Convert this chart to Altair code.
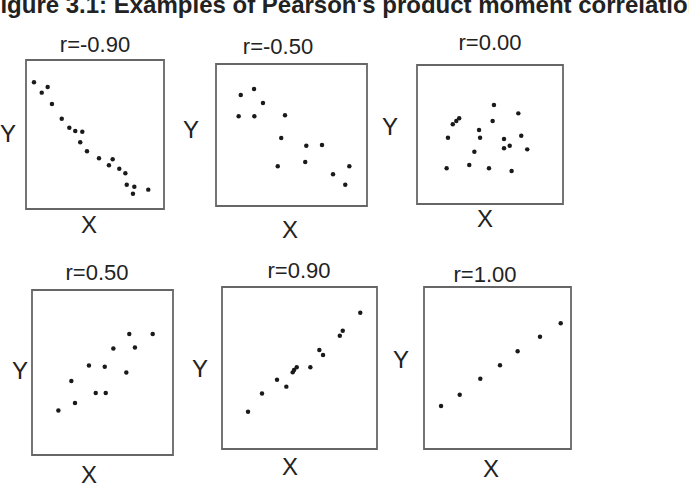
import altair as alt
import pandas as pd

# ---- data (in 0-100 units of each panel) ----
labels = ["r=-0.90", "r=-0.50", "r=0.00", "r=0.50", "r=0.90", "r=1.00"]

p1_x = [5.8, 11.4, 15.7, 18.8, 25.9, 31.4, 35.7, 40.8, 39.3, 44.2, 52.9, 62.8, 60.1, 67.6, 72.0, 73.0, 78.5, 77.5, 88.6]
p1_y = [85.0, 78.1, 81.9, 70.5, 60.6, 54.6, 52.3, 51.9, 44.8, 38.7, 34.0, 33.4, 29.3, 27.0, 24.0, 16.3, 15.0, 10.3, 13.0]

p2_x = [16.4, 25.2, 31.1, 15.0, 25.4, 45.7, 43.2, 59.8, 70.2, 40.9, 59.1, 88.3, 77.5, 85.6]
p2_y = [78.2, 82.4, 72.5, 63.2, 63.2, 63.9, 47.9, 42.5, 43.0, 28.0, 31.0, 28.0, 22.3, 15.0]

p3_x = [52.7, 69.4, 28.9, 26.9, 24.5, 51.8, 42.5, 21.2, 43.2, 71.4, 59.6, 63.5, 59.6, 75.5, 39.3, 35.8, 20.3, 49.3, 64.8]
p3_y = [71.2, 65.2, 61.7, 59.7, 57.3, 59.7, 53.2, 47.7, 47.7, 49.1, 46.8, 41.9, 40.1, 39.3, 37.6, 28.1, 25.7, 25.7, 23.7]

p4_x = [69.0, 85.6, 57.7, 73.0, 40.4, 51.6, 66.9, 27.9, 45.2, 52.3, 30.5, 18.7]
p4_y = [73.4, 73.4, 64.5, 65.2, 54.3, 53.5, 50.0, 44.9, 37.6, 37.6, 31.5, 27.0]

p5_x = [89.2, 77.9, 76.0, 62.8, 65.2, 48.2, 46.5, 45.6, 57.0, 35.5, 41.5, 25.8, 16.8]
p5_y = [84.1, 73.0, 69.9, 61.1, 58.0, 50.4, 48.7, 47.3, 50.4, 42.8, 38.5, 34.2, 23.0]

p6_x = [93.0, 78.9, 63.7, 51.7, 38.3, 24.3, 11.6]
p6_y = [77.6, 69.3, 60.3, 51.7, 43.4, 33.5, 26.5]

title_text = "Figure 3.1: Examples of Pearson's product moment correlation"

# ---- layout (pixel frames of each panel and its labels) ----
boxes = [  # left, right, top, bottom
    (26, 164, 60, 209),
    (216, 367, 64, 206),
    (417, 563, 65, 204),
    (32, 173, 290, 455),
    (222, 377, 287, 449),
    (424, 571, 287, 449),
]
r_pos = [(95, 52), (278, 54), (490, 50), (97, 280), (299, 278), (485, 282)]
y_pos = [(8, 142), (191, 138), (390, 135), (20, 379), (200, 377), (401, 368)]
x_pos = [(89, 233), (290, 238), (485, 227), (89, 483), (290, 475), (491, 477)]

series = [(p1_x, p1_y), (p2_x, p2_y), (p3_x, p3_y), (p4_x, p4_y), (p5_x, p5_y), (p6_x, p6_y)]

TXT = "#222222"
FONT = "Liberation Sans"
NARROW = "Liberation Sans Narrow, Arial Narrow, Liberation Sans"


def text_layer(t, x, y, size, font, weight="normal"):
    return alt.Chart(pd.DataFrame({"t": [t]})).mark_text(
        font=font, fontSize=size, fontWeight=weight, color=TXT,
        align="center", baseline="alphabetic"
    ).encode(x=alt.value(x), y=alt.value(y), text="t:N")


panels = []
for i, (xs, ys) in enumerate(series):
    L, R, T, B = boxes[i]
    xsc = alt.Scale(domain=[0, 100], range=[L, R], nice=False, zero=False)
    ysc = alt.Scale(domain=[0, 100], range=[B, T], nice=False, zero=False)
    df = pd.DataFrame({"x": xs, "y": ys})
    frame = alt.Chart(pd.DataFrame({"a": [0]})).mark_rect(
        fill="white", fillOpacity=0, stroke="#666666", strokeWidth=1.8
    ).encode(
        x=alt.datum(0, scale=xsc, axis=None),
        x2=alt.datum(100),
        y=alt.datum(0, scale=ysc, axis=None),
        y2=alt.datum(100),
    )
    pts = alt.Chart(df).mark_circle(size=20, color="#1a1a1a", opacity=1).encode(
        x=alt.X("x:Q", scale=xsc, axis=None),
        y=alt.Y("y:Q", scale=ysc, axis=None),
    )
    panel = alt.layer(frame, pts)
    panels.append(panel)

texts = []
for i in range(6):
    texts.append(text_layer(labels[i], r_pos[i][0], r_pos[i][1], 22, FONT))
    texts.append(text_layer("Y", y_pos[i][0], y_pos[i][1], 24, NARROW))
    texts.append(text_layer("X", x_pos[i][0], x_pos[i][1], 24, NARROW))
texts.append(text_layer(title_text, 344, 13, 24, FONT, "bold"))

chart = alt.layer(*panels, *texts).resolve_scale(
    x="independent", y="independent"
).properties(
    width=689, height=494, padding=0,
    autosize=alt.AutoSizeParams(type="none"),
    background="white",
).configure_view(strokeWidth=0)

chart.save("out.html", embed_options={"renderer": "svg", "actions": False})
